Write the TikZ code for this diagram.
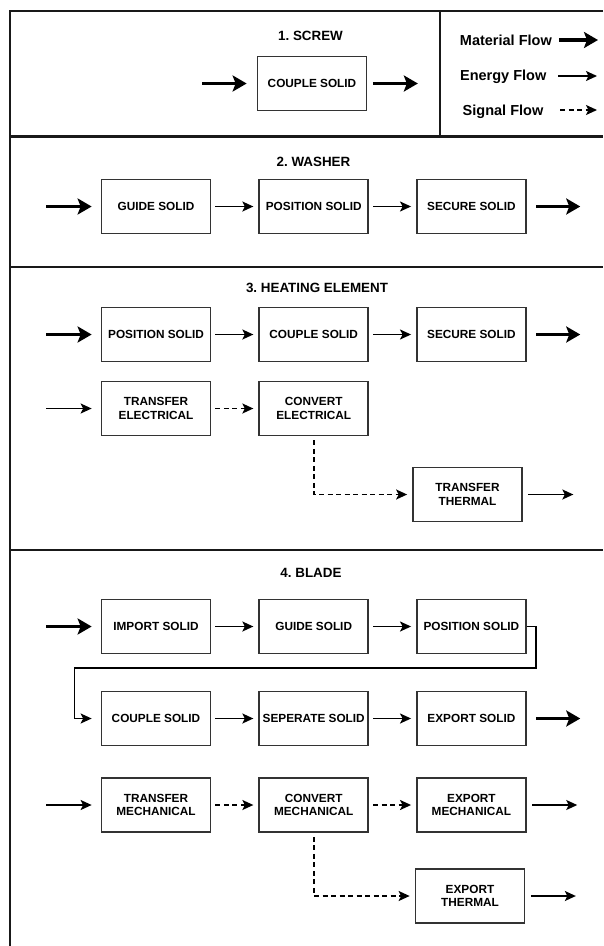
\documentclass[tikz,border=0pt]{standalone}
\usepackage{fontspec}
\setmainfont{Liberation Sans}
\frenchspacing
\usetikzlibrary{arrows.meta,positioning}

\begin{document}
\begin{tikzpicture}[x=1pt, y=-1pt,
  func/.style={rectangle, draw=black!80, line width=1.7pt, minimum width=109pt, minimum height=54pt,
    inner sep=2pt, align=center, font=\fontsize{11.8}{13.5}\selectfont\bfseries},
  ttl/.style={font=\fontsize{13.4}{15}\selectfont\bfseries},
  lgd/.style={anchor=base east, inner sep=0pt, font=\fontsize{14.5}{16}\selectfont\bfseries},
  frame/.style={line width=2.4pt, black!90},
  matflow/.style={line width=3.5pt, -{Stealth[length=14pt, width=16pt, inset=3pt]}},
  enflow/.style={line width=1.6pt, -{Stealth[length=11pt, width=10pt, inset=2.5pt]}, shorten <=4pt, shorten >=5pt},
  sigflow/.style={enflow, dash pattern=on 5pt off 3.5pt}]
\useasboundingbox (0,0) rectangle (603,946);

% frame and sections
\draw[frame] (603,10.7) -- (10,10.7) -- (10,946);
\draw[frame] (10,136.5) -- (603,136.5);
\draw[frame] (10,266.7) -- (603,266.7);
\draw[frame] (10,550) -- (603,550);
\draw[frame] (440,10.7) -- (440,136.5);

% legend
\node[lgd] (lg_mat) at (552,45) {Material Flow};
\node[lgd] (lg_en) at (546.5,80) {Energy Flow};
\node[lgd] (lg_sig) at (543.5,115.5) {Signal Flow};
\coordinate (lg_mat_a) at (559,40);
\coordinate (lg_mat_b) at (598,40);
\coordinate (lg_en_a) at (558,76);
\coordinate (lg_en_b) at (597,76);
\coordinate (lg_sig_a) at (560,110);
\coordinate (lg_sig_b) at (597,110);
\draw[matflow] (lg_mat_a) -- (lg_mat_b);
\draw[enflow, shorten <=0pt, shorten >=0pt] (lg_en_a) -- (lg_en_b);
\draw[sigflow, shorten <=0pt, shorten >=0pt] (lg_sig_a) -- (lg_sig_b);

% 1. screw
\node[ttl] (screw_ttl) at (310.5,36) {1. SCREW};
\node[func] (s_couple) at (312,83.5) {COUPLE SOLID};
\coordinate[left=54.5pt of s_couple] (s_in);
\coordinate[right=50.5pt of s_couple] (s_out);
\draw[matflow, shorten >=10pt] (s_in) -- (s_couple);
\draw[matflow, shorten <=5.5pt] (s_couple) -- (s_out);

% 2. washer
\node[ttl] (washer_ttl) at (313.5,161.5) {2. WASHER};
\node[func] (w_guide) at (156,206.5) {GUIDE SOLID};
\node[func, right=47pt of w_guide] (w_position) {POSITION SOLID};
\node[func, right=47pt of w_position] (w_secure) {SECURE SOLID};
\coordinate[left=54.5pt of w_guide] (w_in);
\coordinate[right=53.5pt of w_secure] (w_out);
\draw[matflow, shorten >=9pt] (w_in) -- (w_guide);
\draw[enflow] (w_guide) -- (w_position);
\draw[enflow] (w_position) -- (w_secure);
\draw[matflow, shorten <=9.5pt] (w_secure) -- (w_out);

% 3. heating element
\node[ttl] (heat_ttl) at (317,288) {3. HEATING ELEMENT};
\node[func] (h_position) at (156,334.5) {POSITION SOLID};
\node[func, right=47pt of h_position] (h_couple) {COUPLE SOLID};
\node[func, right=47pt of h_couple] (h_secure) {SECURE SOLID};
\node[func] (h_transel) at (156,408.5) {TRANSFER\\ELECTRICAL};
\node[func, right=47pt of h_transel] (h_convel) {CONVERT\\ELECTRICAL};
\node[func] (h_transth) at (467.5,494.5) {TRANSFER\\THERMAL};
\coordinate[left=54.5pt of h_position] (h_in_mat);
\coordinate[right=53.5pt of h_secure] (h_out_mat);
\coordinate[left=54.5pt of h_transel] (h_in_en);
\coordinate[right=50.5pt of h_transth] (h_out_en);
\draw[matflow, shorten >=9pt] (h_in_mat) -- (h_position);
\draw[enflow] (h_position) -- (h_couple);
\draw[enflow] (h_couple) -- (h_secure);
\draw[matflow, shorten <=9.5pt] (h_secure) -- (h_out_mat);
\draw[enflow, shorten <=0pt, shorten >=9pt] (h_in_en) -- (h_transel);
\draw[sigflow] (h_transel) -- (h_convel);
\draw[sigflow] (h_convel) |- (h_transth);
\draw[enflow, shorten >=0pt, shorten <=5.5pt] (h_transth) -- (h_out_en);

% 4. blade
\node[ttl] (blade_ttl) at (311,573) {4. BLADE};
\node[func] (b_import) at (156,626.5) {IMPORT SOLID};
\node[func, right=47pt of b_import] (b_guide) {GUIDE SOLID};
\node[func, right=47pt of b_guide] (b_position) {POSITION SOLID};
\node[func] (b_couple) at (156,718.5) {COUPLE SOLID};
\node[func, right=47pt of b_couple] (b_seperate) {SEPERATE SOLID};
\node[func, right=47pt of b_seperate] (b_export) {EXPORT SOLID};
\node[func] (b_transme) at (156,805) {TRANSFER\\MECHANICAL};
\node[func, right=47pt of b_transme] (b_convme) {CONVERT\\MECHANICAL};
\node[func, right=47pt of b_convme] (b_expme) {EXPORT\\MECHANICAL};
\node[func] (b_expth) at (470,896) {EXPORT\\THERMAL};
\coordinate[left=54.5pt of b_import] (b_in_mat);
\coordinate[right=53.5pt of b_export] (b_out_mat);
\coordinate[left=54.5pt of b_transme] (b_in_en);
\coordinate[right=50.5pt of b_expme] (b_out_me);
\coordinate[right=50.5pt of b_expth] (b_out_th);
\draw[matflow, shorten >=9pt] (b_in_mat) -- (b_import);
\draw[enflow] (b_import) -- (b_guide);
\draw[enflow] (b_guide) -- (b_position);
\draw[enflow, shorten <=0pt, shorten >=9pt] (b_position.east) -- ++(9,0) -- ++(0,41.5)
  -| ([xshift=-26pt]b_couple.west) -- (b_couple);
\draw[enflow] (b_couple) -- (b_seperate);
\draw[enflow] (b_seperate) -- (b_export);
\draw[matflow, shorten <=9.5pt] (b_export) -- (b_out_mat);
\draw[enflow, shorten <=0pt, shorten >=9pt] (b_in_en) -- (b_transme);
\draw[sigflow] (b_transme) -- (b_convme);
\draw[sigflow] (b_convme) -- (b_expme);
\draw[enflow, shorten >=0pt, shorten <=5.5pt] (b_expme) -- (b_out_me);
\draw[sigflow] (b_convme) |- (b_expth);
\draw[enflow, shorten >=0pt, shorten <=5.5pt] (b_expth) -- (b_out_th);
\end{tikzpicture}
\end{document}
